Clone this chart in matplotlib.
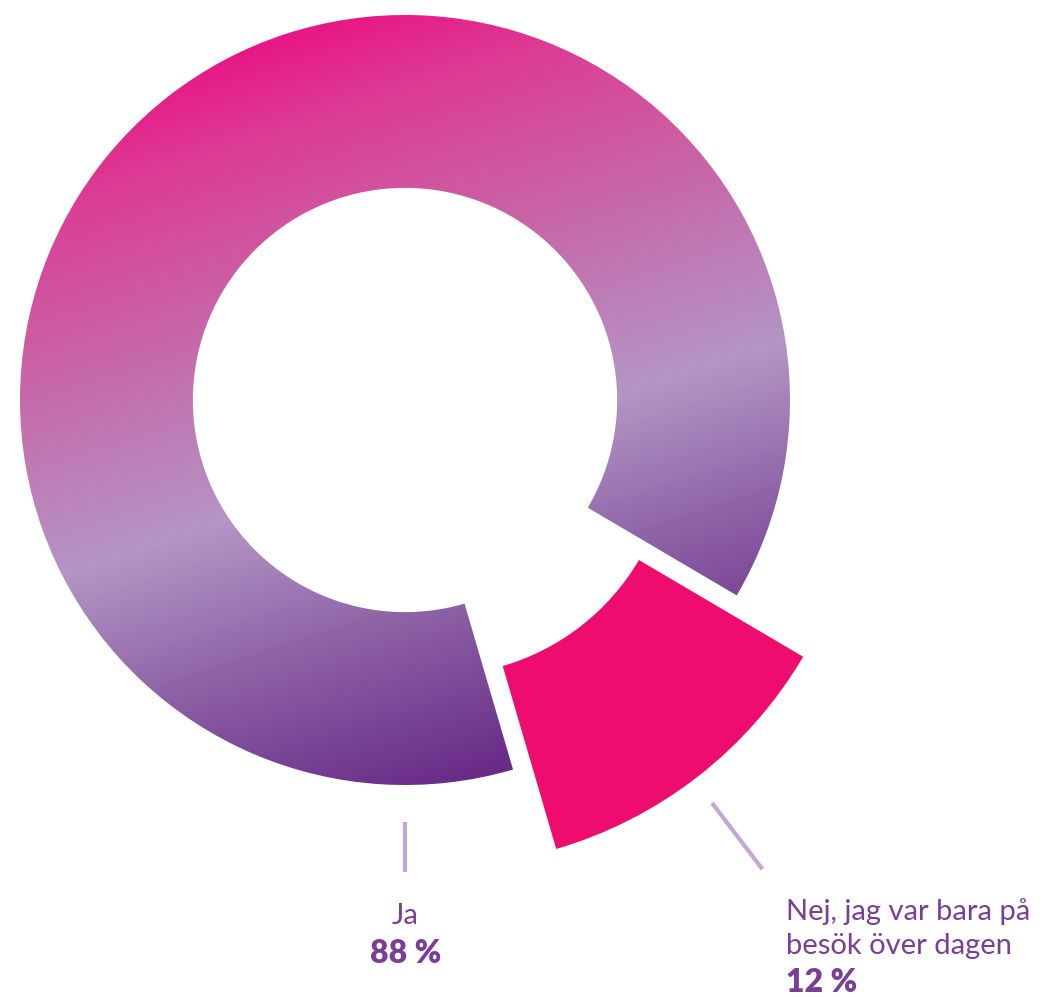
import numpy as np
import matplotlib
matplotlib.use('Agg')
import matplotlib.pyplot as plt
from matplotlib.colors import LinearSegmentedColormap

labels = ['Ja', 'Nej, jag var bara på\nbesök över dagen']
values = [88, 12]
value_labels = ['88 %', '12 %']

text_color = '#7A3E96'
line_color = '#C3A6D3'
nej_color = '#EE0C6E'

# gradient used for the "Ja" ring
grad_cmap = LinearSegmentedColormap.from_list('ja_grad', [
    (0.00, '#EE0680'),
    (0.16, '#DC3C94'),
    (0.38, '#C66AA9'),
    (0.60, '#B495C5'),
    (0.79, '#8C60A5'),
    (1.00, '#682A87'),
])

W, H = 1055, 997
CX, CY, R = 405, 400, 385.0


def px(x, y):
    # pixel position -> data units (ring radius = 1)
    return (x - CX) / R, (CY - y) / R


fig = plt.figure(figsize=(W / 100, H / 100), dpi=100)
ax = fig.add_axes([0, 0, 1, 1])

start = -30.5
ring, _ = ax.pie(values, startangle=start, radius=1.0, counterclock=True,
                 wedgeprops=dict(width=0.449, edgecolor='none'))
ring[0].set_facecolor('none')
ring[1].set_visible(False)

outer, _ = ax.pie(values, startangle=start, radius=1.104, counterclock=True,
                  explode=[0, 0.135],
                  wedgeprops=dict(width=0.495, edgecolor='none'))
outer[0].set_visible(False)
outer[1].set_facecolor(nej_color)

# gradient image clipped to the Ja wedge
g = np.linspace(-1.1, 1.1, 900)
gx, gy = np.meshgrid(g, g)
t = 0.307 * gx - 0.951 * gy
t = np.clip((t + 1.1) / 2.1, 0, 1)
im = ax.imshow(t, extent=[-1.1, 1.1, -1.1, 1.1], origin='lower',
               cmap=grad_cmap, vmin=0, vmax=1, interpolation='bilinear', zorder=1)
im.set_clip_path(ring[0])

# leader lines
x0, y0 = px(405, 822)
x1, y1 = px(405, 872)
ax.plot([x0, x1], [y0, y1], color=line_color, lw=3, solid_capstyle='butt')

w = outer[1]
tm = np.deg2rad((w.theta1 + w.theta2) / 2 - 0.6)
ax.plot([1.316 * np.cos(tm), 1.532 * np.cos(tm)],
        [1.316 * np.sin(tm), 1.532 * np.sin(tm)],
        color=line_color, lw=3, solid_capstyle='butt')

font = 'Lato'

# Ja label
x, y = px(405, 924)
ax.text(x, y, labels[0], ha='center', va='baseline', fontsize=21,
        color=text_color, family=font)
x, y = px(406, 963)
ax.text(x, y, value_labels[0], ha='center', va='baseline', fontsize=23,
        fontweight='heavy', color=text_color, family=font)

# Nej label, one line at a time
for i, line in enumerate(labels[1].split('\n')):
    x, y = px(786, 920 + 34 * i)
    ax.text(x, y, line, ha='left', va='baseline', fontsize=21,
            color=text_color, family=font)
x, y = px(786, 992)
ax.text(x, y, value_labels[1], ha='left', va='baseline', fontsize=23,
        fontweight='heavy', color=text_color, family=font)

ax.set_xlim(-CX / R, (W - CX) / R)
ax.set_ylim(-(H - CY) / R, CY / R)
ax.set_aspect('equal')
ax.axis('off')

fig.savefig('out.png', dpi=100)
